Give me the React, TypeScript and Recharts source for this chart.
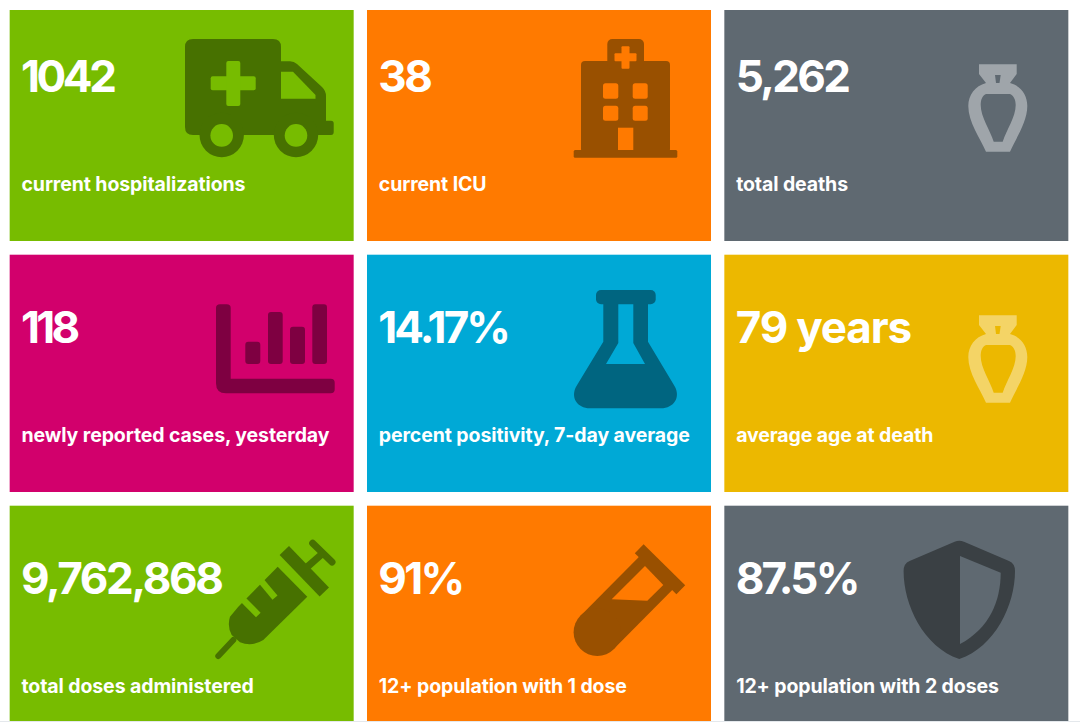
import { ScatterChart, Scatter, XAxis, YAxis } from 'recharts';

const tileValues = ['1042', '38', '5,262', '118', '14.17%', '79 years', '9,762,868', '91%', '87.5%'];
const tileLabels = [
  'current hospitalizations',
  'current ICU',
  'total deaths',
  'newly reported cases, yesterday',
  'percent positivity, 7-day average',
  'average age at death',
  'total doses administered',
  '12+ population with 1 dose',
  '12+ population with 2 doses',
];
const tileColumns = [0, 1, 2, 0, 1, 2, 0, 1, 2];
const tileRows = [0, 0, 0, 1, 1, 1, 2, 2, 2];
const tileIcons = ['ambulance', 'hospital', 'urn', 'bars', 'flask', 'urn', 'syringe', 'tube', 'shield'];

const WIDTH = 1080;
const HEIGHT = 726;
const TILE_W = 344;
const TILE_H = 237.3;
const CLIP_TOP = 10;
const CLIP_BOTTOM = 721;
const FONT = 'Inter, sans-serif';

// spacing: the original font has narrower digits than Inter, so tighten per tile
const TILE_STYLES = [
  { bg: '#77bc00', ink: '#477100', spacing: -3.4 },
  { bg: '#ff7a00', ink: '#995000', spacing: -2.4 },
  { bg: '#5f6971', ink: '#9fa5aa', spacing: -2.6 },
  { bg: '#d2006c', ink: '#7e0041', spacing: -3.7 },
  { bg: '#00a9d6', ink: '#006580', spacing: -2.9 },
  { bg: '#ecb800', ink: '#f4d466', spacing: -1.15 },
  { bg: '#77bc00', ink: '#477100', spacing: -2.3 },
  { bg: '#ff7a00', ink: '#995000', spacing: -2.7 },
  { bg: '#5f6971', ink: '#3a4044', spacing: -2.8 },
];

const chartData = tileValues.map((value, i) => ({
  value,
  label: tileLabels[i],
  column: tileColumns[i],
  row: tileRows[i],
  icon: tileIcons[i],
  index: i,
}));

// each icon is drawn in the picture coordinates of the first tile that uses it
const ICON_ORIGIN: Record<string, [number, number]> = {
  ambulance: [181.67, 122.35],
  hospital: [539, 122.35],
  urn: [896.33, 122.35],
  bars: [181.67, 373.35],
  flask: [539, 373.35],
  syringe: [181.67, 624.35],
  tube: [539, 624.35],
  shield: [896.33, 624.35],
};

function Icon({ name, ink, bg }: { name: string; ink: string; bg: string }) {
  switch (name) {
    case 'ambulance':
      return (
        <g>
          <path
            fill={ink}
            d="M193 39 H273 Q281 39 281 47 V61.3 H290 Q294 61.3 297 64 L322 87 Q326 91 326 96 V120.7 H331 Q333.7 120.7 333.7 123.5 V132 Q333.7 135 331 135 H193 Q185 135 185 127 V47 Q185 39 193 39 Z"
          />
          <circle cx={221.7} cy={135} r={22.2} fill={ink} />
          <circle cx={296} cy={135} r={22.2} fill={ink} />
          <circle cx={221.7} cy={135.4} r={11.3} fill={bg} />
          <circle cx={296} cy={135.4} r={11.3} fill={bg} />
          <path fill={bg} d="M281 71.7 H293 L315.5 95 V98.7 H281 Z" />
          <rect x={210.7} y={76.3} width={45} height={14} rx={2} fill={bg} />
          <rect x={226.3} y={61} width={14} height={45} rx={2} fill={bg} />
        </g>
      );
    case 'hospital':
      return (
        <g>
          <rect x={581} y={61} width={89} height={92} rx={4} fill={ink} />
          <rect x={607.3} y={39} width={36.7} height={30} rx={5} fill={ink} />
          <rect x={573.7} y={150} width={103.6} height={7.7} rx={1.5} fill={ink} />
          <rect x={614.5} y={53.3} width={22} height={8} rx={1} fill={bg} />
          <rect x={621.5} y={46.3} width={8} height={22.4} rx={1} fill={bg} />
          <rect x={603} y={83.3} width={15.3} height={15.4} rx={2.5} fill={bg} />
          <rect x={632.7} y={83.3} width={15} height={15.4} rx={2.5} fill={bg} />
          <rect x={603} y={105.7} width={15.3} height={15} rx={2.5} fill={bg} />
          <rect x={632.7} y={105.7} width={15} height={15} rx={2.5} fill={bg} />
          <rect x={618} y={127.7} width={15.3} height={22.3} fill={bg} />
        </g>
      );
    case 'urn':
      return (
        <g>
          <path
            fill={ink}
            d="M979 64.3 H1016.7 V74 L1010 83 C1021 86 1027.3 95 1027.3 106 C1027.3 122 1016 138 1010 151.7 H986 C980 138 968.3 122 968.3 106 C968.3 95 975 86 986 83 L979 74 Z"
          />
          <path fill={bg} d="M995 75 H1000.7 L999.5 83 H996 Z" />
          <path
            fill={bg}
            d="M986 94 H1010 C1014 96 1015.7 100 1015.7 105 C1015.7 117 1006.5 130 1002.7 141.7 H993.7 C990 130 980.7 117 980.7 105 C980.7 100 982 96 986 94 Z"
          />
        </g>
      );
    case 'bars':
      return (
        <g fill={ink}>
          <path d="M220 304.3 H226.7 Q230.7 304.3 230.7 308 V378.7 H330.7 Q334.7 378.7 334.7 382.7 V389.3 Q334.7 393.3 330.7 393.3 H226 Q216 393.3 216 383.3 V308 Q216 304.3 220 304.3 Z" />
          <rect x={245.3} y={341.7} width={15} height={22.3} rx={3} />
          <rect x={268} y={312} width={14.7} height={52} rx={3} />
          <rect x={290} y={326.7} width={15} height={37.3} rx={3} />
          <rect x={312.3} y={304.3} width={14.7} height={59.7} rx={3} />
        </g>
      );
    case 'flask':
      return (
        <g>
          <rect x={596} y={290} width={59.7} height={14.3} rx={5} fill={ink} />
          <path
            fill={ink}
            d="M603.3 304 H648 V341.7 L674.5 386 C681 397 674 408.3 661 408.3 H590 C577 408.3 570 397 576.5 386 L603.3 341.7 Z"
          />
          <path fill={bg} d="M618.3 304.3 H633.3 V343 L645 364 H606 L618.3 343 Z" />
        </g>
      );
    case 'syringe':
      return (
        <g>
          <line x1={312.7} y1={543.3} x2={332} y2={562} stroke={ink} strokeWidth={7} strokeLinecap="round" />
          <line x1={322.7} y1={553.3} x2={306} y2={568} stroke={ink} strokeWidth={7} />
          <line x1={284.3} y1={550.5} x2={324.3} y2={592} stroke={ink} strokeWidth={13} />
          <path
            fill={ink}
            d="M277.7 566.7 L307.3 596.7 L263.3 640 Q252 647 240 642.3 L231.7 635 Q227 626 230 616.7 L238.3 606.7 Z"
          />
          <line x1={259} y1={578.5} x2={275} y2={597.7} stroke={bg} strokeWidth={6.5} />
          <line x1={241.7} y1={598.3} x2={258.3} y2={615} stroke={bg} strokeWidth={6.5} />
          <line x1={233.3} y1={640} x2={218.3} y2={656} stroke={ink} strokeWidth={6} strokeLinecap="round" />
        </g>
      );
    case 'tube':
      return (
        <g>
          <line x1={597.3} y1={632.3} x2={660} y2={569} stroke={ink} strokeWidth={47} />
          <circle cx={597.3} cy={632.3} r={23.7} fill={ink} />
          <line x1={639.2} y1={548.7} x2={680.8} y2={589.7} stroke={ink} strokeWidth={12.5} />
          <path fill={bg} d="M645 566 L663.3 585 L647.3 600.7 L611.7 599.3 Z" />
        </g>
      );
    case 'shield':
      return (
        <g>
          <path
            fill={ink}
            d="M959.3 540.7 Q961.5 540.7 964 541.8 L1009 561 Q1015 563.5 1015 571 C1015 605 995 647 959.3 659 C923.6 647 903.6 605 903.6 571 Q903.6 563.5 909.6 561 L954.6 541.8 Q957 540.7 959.3 540.7 Z"
          />
          <path fill={bg} d="M960 556 L1000.7 572.7 C1000.7 600 990 628 960 644 Z" />
        </g>
      );
    default:
      return null;
  }
}

function Tile(props: any) {
  const { cx, cy, payload } = props;
  const style = TILE_STYLES[payload.index];
  const left = cx - TILE_W / 2;
  const top = Math.max(CLIP_TOP, cy - TILE_H / 2);
  const bottom = Math.min(CLIP_BOTTOM, cy + TILE_H / 2);
  const [ox, oy] = ICON_ORIGIN[payload.icon];

  return (
    <g>
      <rect x={left} y={top} width={TILE_W} height={bottom - top} fill={style.bg} />
      <g transform={`translate(${cx - ox} ${cy - oy})`}>
        <Icon name={payload.icon} ink={style.ink} bg={style.bg} />
      </g>
      <text
        x={left + 11.3}
        y={cy - 30.5}
        fill="#fff"
        fontFamily={FONT}
        fontWeight={700}
        fontSize={44}
        letterSpacing={style.spacing}
      >
        {payload.value}
      </text>
      <text
        x={left + 11.8}
        y={cy + 69}
        fill="#fff"
        fontFamily={FONT}
        fontWeight={700}
        fontSize={19.5}
        letterSpacing={-0.1}
      >
        {payload.label}
      </text>
    </g>
  );
}

export default function App() {
  return (
    <div style={{ position: 'absolute', left: 0, top: 0, width: WIDTH, height: HEIGHT, background: '#fff' }}>
      <div style={{ position: 'absolute', left: 0, top: 721, width: WIDTH, height: 1, background: '#e4e8ec' }} />
      <ScatterChart
        width={WIDTH}
        height={HEIGHT}
        margin={{ top: 122.35, right: 183.67, bottom: 101.65, left: 181.67 }}
        style={{ position: 'absolute', left: 0, top: 0 }}
      >
        <XAxis type="number" dataKey="column" domain={[0, 2]} hide />
        <YAxis type="number" dataKey="row" domain={[0, 2]} reversed hide />
        <Scatter data={chartData} shape={Tile} isAnimationActive={false} />
      </ScatterChart>
    </div>
  );
}
